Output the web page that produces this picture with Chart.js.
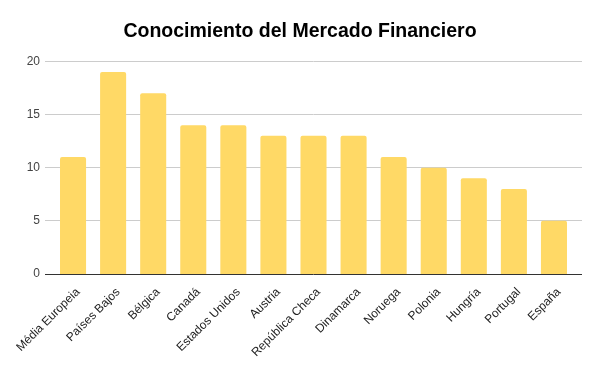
<!DOCTYPE html>
<html>
<head>
<meta charset="utf-8">
<script src="https://cdn.jsdelivr.net/npm/chart.js@4/dist/chart.umd.min.js"></script>
<style>
html,body{margin:0;padding:0;background:#fff;}
#wrap{width:600px;height:371px;position:relative;}
</style>
</head>
<body>
<div id="wrap"><canvas id="c" width="600" height="371"></canvas></div>
<script>
const categories = ["Média Europeia","Países Bajos","Bélgica","Canadá","Estados Unidos","Austria","República Checa","Dinamarca","Noruega","Polonia","Hungría","Portugal","España"];
const values = [11,19,17,14,14,13,13,13,11,10,9,8,5];
const yTicks = [0,5,10,15,20];

function align(p){ return Math.round(p - 0.5) + 0.5; }

const extendGrid = {
  id:'extendGrid',
  beforeDatasetsDraw(chart){
    const {ctx, chartArea, scales} = chart;
    ctx.save();
    ctx.lineWidth = 1;
    yTicks.forEach(v=>{
      const y = align(scales.y.getPixelForValue(v));
      ctx.strokeStyle = v===0 ? '#333333' : '#cccccc';
      ctx.beginPath();
      ctx.moveTo(chartArea.left-8, y);
      ctx.lineTo(chartArea.right+8, y);
      ctx.stroke();
    });
    ctx.restore();
  }
};

new Chart(document.getElementById('c'), {
  type:'bar',
  data:{
    labels:categories,
    datasets:[{
      data:values,
      backgroundColor:'#FFD966',
      borderRadius:{topLeft:2,topRight:2},
      borderSkipped:'bottom',
      barPercentage:0.65,
      categoryPercentage:1.0
    }]
  },
  options:{
    responsive:false,
    animation:false,
    devicePixelRatio:1,
    layout:{padding:{left:26,right:26,top:0,bottom:0}},
    plugins:{
      legend:{display:false},
      tooltip:{enabled:false},
      title:{
        display:true,
        text:'Conocimiento del Mercado Financiero',
        color:'#000',
        font:{family:'Liberation Sans, Arial, sans-serif',size:19.5,weight:'bold'},
        padding:{top:20,bottom:18}
      }
    },
    scales:{
      x:{
        grid:{display:false},
        border:{display:false},
        ticks:{
          color:'#222',
          font:{family:'Liberation Sans, Arial, sans-serif',size:12},
          maxRotation:45,minRotation:45,
          autoSkip:false,
          padding:3,
          labelOffset:5
        },
        afterFit(s){ s.height = 97; }
      },
      y:{
        min:0,max:20,
        afterBuildTicks(s){ s.ticks = yTicks.map(v=>({value:v})); },
        grid:{display:false,drawTicks:false,tickLength:8},
        border:{display:false},
        ticks:{
          color:'#444',
          font:{family:'Liberation Sans, Arial, sans-serif',size:12},
          padding:13
        },
        afterFit(s){ s.width = 27; }
      }
    }
  },
  plugins:[extendGrid]
});
</script>
</body>
</html>
